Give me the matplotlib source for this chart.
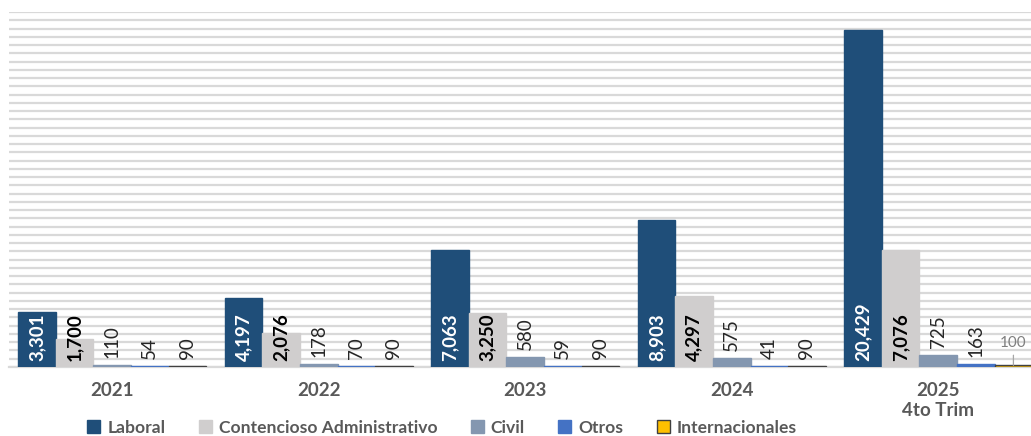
import matplotlib

matplotlib.use("Agg")
import matplotlib.pyplot as plt
import numpy as np
from matplotlib.patches import Patch

plt.rcParams["font.family"] = ["Lato", "DejaVu Sans"]

# Data
years = ["2021", "2022", "2023", "2024", "2025\n4to Trim"]
series = ["Laboral", "Contencioso Administrativo", "Civil", "Otros", "Internacionales"]
laboral = [3301, 4197, 7063, 8903, 20429]
contencioso = [1700, 2076, 3250, 4297, 7076]
civil = [110, 178, 580, 575, 725]
otros = [54, 70, 59, 41, 163]
internacionales = [90, 90, 90, 90, 100]

colors = ["#1F4E79", "#D0CECE", "#8497B0", "#4472C4", "#FFC000"]
values = [laboral, contencioso, civil, otros, internacionales]

fig = plt.figure(figsize=(10.31, 4.36), dpi=100)
# axes runs past the right edge, like the cropped original
ax = fig.add_axes([9 / 1031, 69 / 436, 1032.5 / 1031, 355 / 436])

x = np.arange(len(years))
w = 0.182
for j, (name, vals, col) in enumerate(zip(series, values, colors)):
    pos = x + (j - 2) * w
    edge = "#404040" if name == "Internacionales" else col
    ax.bar(pos, vals, width=w, color=col, edgecolor=edge, linewidth=1.0,
           label=name, zorder=3, align="center")
    for k, (p, v) in enumerate(zip(pos, vals)):
        txt = f"{v:,}"
        if j == 0:
            ax.annotate(txt, (p, 0), xytext=(0, 4), textcoords="offset points",
                        rotation=90, ha="center", va="bottom", color="white",
                        fontsize=13.5, fontweight="bold", zorder=4)
        elif j == 1:
            ax.annotate(txt, (p, 0), xytext=(0, 4), textcoords="offset points",
                        rotation=90, ha="center", va="bottom", color="black",
                        fontsize=13.5, fontweight="bold", zorder=4)
        elif j == 4 and k == len(vals) - 1:
            # leader line label for the last group
            ax.annotate(txt, (p, v), xytext=(p, 1050),
                        ha="center", va="bottom", color="#7F7F7F", fontsize=11,
                        arrowprops=dict(arrowstyle="-", color="#A6A6A6", lw=0.9,
                                        shrinkA=2, shrinkB=0),
                        zorder=4)
        else:
            ax.annotate(txt, (p, v), xytext=(0, 5), textcoords="offset points",
                        rotation=90, ha="center", va="bottom", color="#262626",
                        fontsize=13.5, zorder=4)

ax.set_xlim(-0.5, len(years) - 0.5)
ax.set_ylim(0, 21500)
ax.set_yticks(np.arange(0, 21501, 500))
ax.yaxis.grid(True, color="#D9D9D9", linewidth=1.6, zorder=0)
ax.set_axisbelow(True)
ax.tick_params(axis="y", left=False, labelleft=False)
ax.tick_params(axis="x", bottom=False, pad=7)
ax.set_xticks(x)
ax.set_xticklabels(years, fontsize=13.5, fontweight="bold", color="#595959",
                   linespacing=1.25)
for s in ["top", "right", "left"]:
    ax.spines[s].set_visible(False)
ax.spines["bottom"].set_color("#D9D9D9")
ax.spines["bottom"].set_linewidth(1.6)

handles = [Patch(facecolor=c, edgecolor=("#404040" if n == "Internacionales" else c),
                 label=n) for n, c in zip(series, colors)]
fig.legend(handles=handles, loc="center", bbox_to_anchor=(442 / 1031, 1 - 428 / 436),
           ncol=5, frameon=False, handlelength=0.75, handleheight=0.75,
           handletextpad=0.4, columnspacing=1.9,
           prop={"size": 12.6, "weight": "bold"}, labelcolor="#595959")

fig.savefig("out.png", dpi=100)
